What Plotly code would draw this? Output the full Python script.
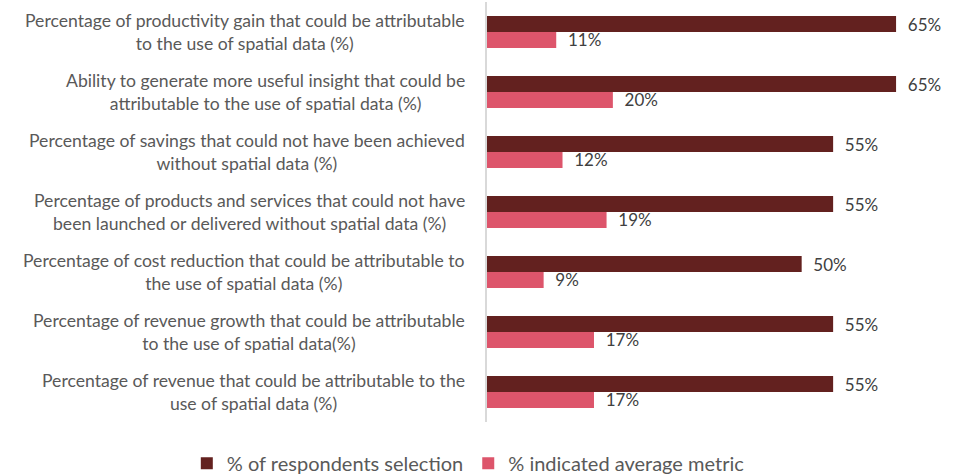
import plotly.graph_objects as go

categories = [
    "Percentage of productivity gain that could be attributable<br>to the use of spatial data (%)",
    "Ability to generate more useful insight that could be<br>attributable to the use of spatial data (%)",
    "Percentage of savings that could not have been achieved<br>without spatial data (%)",
    "Percentage of products and services that could not have<br>been launched or delivered without spatial data (%)",
    "Percentage of cost reduction that could be attributable to<br>the use of spatial data (%)",
    "Percentage of revenue growth that could be attributable<br>to the use of spatial data(%)",
    "Percentage of revenue that could be attributable to the<br>use of spatial data (%)",
]
respondents = [65, 65, 55, 55, 50, 55, 55]
average_metric = [11, 20, 12, 19, 9, 17, 17]
series_names = ["% of respondents selection", "% indicated average metric"]

FONT = "Lato"
fig = go.Figure()
for name, vals, color in [
    (series_names[0], respondents, "#63211F"),
    (series_names[1], average_metric, "#DD556B"),
]:
    fig.add_trace(go.Bar(
        y=categories, x=vals, orientation="h", name=name,
        marker=dict(color=color, line=dict(width=0)),
        text=[f"{v}%" for v in vals], textposition="outside",
        texttemplate="  %{text}", constraintext="none",
        textfont=dict(family=FONT, size=17, color="#404040"),
        cliponaxis=False,
    ))

for c in categories:
    fig.add_annotation(
        x=-0.042, xref="paper", y=c, yref="y", text=c, showarrow=False,
        xanchor="right", yanchor="middle", align="center",
        font=dict(family=FONT, size=17.6, color="#595959"),
    )

fig.update_layout(
    width=964, height=474,
    margin=dict(l=487, r=5, t=2, b=52, autoexpand=False),
    paper_bgcolor="white", plot_bgcolor="white",
    barmode="group", bargap=0.467, bargroupgap=0,
    xaxis=dict(range=[0, 75], visible=False, showgrid=False, zeroline=False),
    yaxis=dict(autorange="reversed", showticklabels=False, showgrid=False,
               showline=True, linecolor="#D9D9D9", linewidth=2, ticks=""),
    legend=dict(orientation="h", x=-0.636, xanchor="left", y=-0.098, yanchor="middle",
                font=dict(family=FONT, size=20, color="#595959"),
                itemwidth=30, tracegroupgap=0),
    showlegend=True,
    hovermode=False,
)
fig.write_html("out.html", config={"displayModeBar": False},
               post_script="document.body.style.margin='0px';")
